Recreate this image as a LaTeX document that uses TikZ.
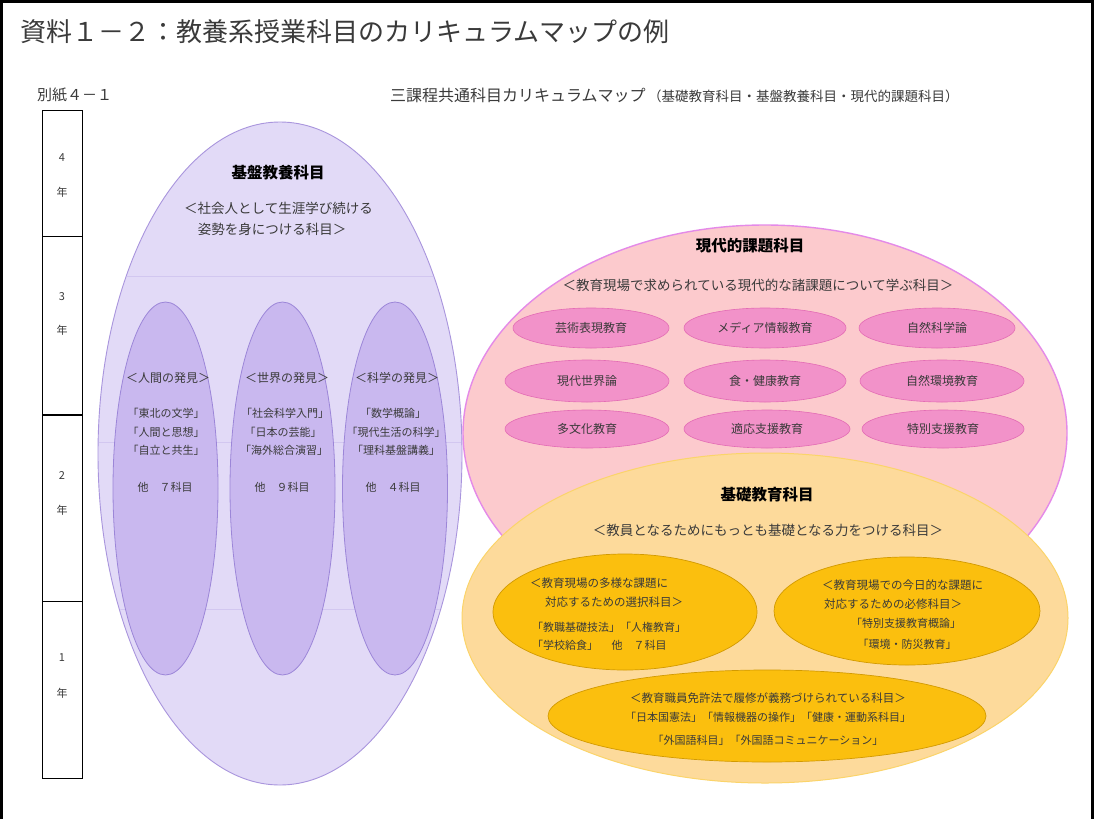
\documentclass[tikz,border=0pt]{standalone}
\usepackage{fontspec}
\setmainfont{Noto Sans CJK JP}
\usetikzlibrary{shapes.geometric}
\newcommand{\fsz}[2]{\fontsize{#1}{#2}\selectfont}
\definecolor{txt}{HTML}{3A3A3A}
\definecolor{pfill}{HTML}{E2DAF7}
\definecolor{pline}{HTML}{A995DD}
\definecolor{pfaint}{HTML}{D2C7F0}
\definecolor{pifill}{HTML}{C9B8EF}
\definecolor{piline}{HTML}{9C86D8}
\definecolor{kfill}{HTML}{FCCACD}
\definecolor{kline}{HTML}{E48AE8}
\definecolor{kifill}{HTML}{F292C9}
\definecolor{kiline}{HTML}{E36BB4}
\definecolor{ofill}{HTML}{FDDA9B}
\definecolor{oline}{HTML}{FBD46A}
\definecolor{oifill}{HTML}{FBBF0E}
\definecolor{oiline}{HTML}{D29A00}
\tikzset{
  every node/.style={inner sep=0pt, text=txt},
  oval/.style={ellipse, inner sep=0pt},
  bigpurple/.style={oval, draw=pline, fill=pfill, line width=0.9pt},
  smallpurple/.style={oval, draw=piline, fill=pifill, line width=0.8pt, minimum width=105pt, minimum height=373pt},
  bigpink/.style={oval, draw=kline, fill=kfill, line width=1.4pt},
  smallpink/.style={oval, draw=kiline, fill=kifill, line width=0.6pt, font=\fsz{12}{14}},
  bigorange/.style={oval, draw=oline, fill=ofill, line width=1pt},
  smallorange/.style={oval, draw=oiline, fill=oifill, line width=0.7pt},
  head/.style={font=\fsz{15.5}{18}\bfseries, text=black},
  sub/.style={font=\fsz{13.5}{16}},
  inner/.style={font=\fsz{11}{13}},
  otext/.style={font=\fsz{11.5}{13}},
  yr/.style={font=\fsz{11}{13}}
}
\begin{document}
\begin{tikzpicture}[x=1pt,y=-1pt]
\useasboundingbox (0,0) rectangle (1094,819);
\fill[white] (0,0) rectangle (1094,819);
\draw[line width=3pt] (1.5,819) -- (1.5,1.5) -- (1092.5,1.5) -- (1092.5,819);

% title and header
\node[anchor=west, font=\fsz{26}{30}] (title) at (20,32) {資料１－２：教養系授業科目のカリキュラムマップの例};
\node[anchor=west, font=\fsz{15}{18}] (bessi) at (37,95) {別紙４－１};
\node[anchor=west, font=\fsz{16}{18}] (hdr) at (390,95) {三課程共通科目カリキュラムマップ};
\node[anchor=west, font=\fsz{13.5}{16}] (hdr2) at (648,96) {（基礎教育科目・基盤教養科目・現代的課題科目）};

% year column
\draw[line width=0.8pt] (42,110) rectangle (82,778);
\draw[line width=0.8pt] (42,236) -- (82,236);
\draw[line width=1.4pt] (42,415) -- (82,415);
\draw[line width=0.8pt] (42,601) -- (82,601);
\node[yr] (y4) at (62,158) {\rmfamily 4};
\node[yr] (y4n) at (62,192) {年};
\node[yr] (y3) at (62,297) {\rmfamily 3};
\node[yr] (y3n) at (62,330) {年};
\node[yr] (y2) at (62,475) {\rmfamily 2};
\node[yr] (y2n) at (62,510) {年};
\node[yr] (y1) at (62,658) {\rmfamily 1};
\node[yr] (y1n) at (62,693) {年};

% purple
\node[bigpurple, minimum width=364pt, minimum height=663pt] (kiban) at (280,453.5) {};
\begin{scope}
\clip (280,453.5) ellipse [x radius=181, y radius=330.5];
\draw[pfaint, line width=0.6pt] (90,276) -- (470,276);
\draw[pfaint, line width=0.6pt] (90,442) -- (470,442);
\draw[pfaint, line width=0.6pt] (90,609) -- (470,609);
\end{scope}
\node[smallpurple] (ningen) at (165.5,488.5) {};
\node[smallpurple] (sekai) at (282.5,488.5) {};
\node[smallpurple] (kagaku) at (395,488.5) {};
\node[head] (kibanT) at (278,173) {基盤教養科目};
\node[sub] (kibanS1) at (278.5,208) {＜社会人として生涯学び続ける};
\node[sub] (kibanS2) at (272,229) {姿勢を身につける科目＞};

\node[inner, font=\fsz{12}{14}] (nT) at (168,378) {＜人間の発見＞};
\node[inner] (n1) at (166,413) {「東北の文学」};
\node[inner] (n2) at (166,432) {「人間と思想」};
\node[inner] (n3) at (166,450) {「自立と共生」};
\node[inner] (n4) at (165,487) {他　７科目};

\node[inner, font=\fsz{12}{14}] (sT) at (287,378) {＜世界の発見＞};
\node[inner] (s1) at (285,413) {「社会科学入門」};
\node[inner] (s2) at (283,432) {「日本の芸能」};
\node[inner] (s3) at (284,450) {「海外総合演習」};
\node[inner] (s4) at (282,487) {他　９科目};

\node[inner, font=\fsz{12}{14}] (kT) at (397,378) {＜科学の発見＞};
\node[inner] (k1) at (393,413) {「数学概論」};
\node[inner] (k2) at (396,432) {「現代生活の科学」};
\node[inner] (k3) at (396,450) {「理科基盤講義」};
\node[inner] (k4) at (393,487) {他　４科目};

% pink
\node[bigpink, minimum width=604pt, minimum height=416pt] (gendai) at (765,433) {};
\node[head] (gendaiT) at (750,246) {現代的課題科目};
\node[sub] (gendaiS) at (758,285) {＜教育現場で求められている現代的な諸課題について学ぶ科目＞};
\node[smallpink, minimum width=156pt, minimum height=40pt] (p11) at (591,328) {芸術表現教育};
\node[smallpink, minimum width=162pt, minimum height=40pt] (p12) at (765,328) {メディア情報教育};
\node[smallpink, minimum width=156pt, minimum height=40pt] (p13) at (937,328) {自然科学論};
\node[smallpink, minimum width=164pt, minimum height=42pt] (p21) at (587,381) {現代世界論};
\node[smallpink, minimum width=162pt, minimum height=42pt] (p22) at (765,381) {食・健康教育};
\node[smallpink, minimum width=164pt, minimum height=42pt] (p23) at (942,381) {自然環境教育};
\node[smallpink, minimum width=164pt, minimum height=38pt] (p31) at (587,429) {多文化教育};
\node[smallpink, minimum width=166pt, minimum height=38pt] (p32) at (767,429) {適応支援教育};
\node[smallpink, minimum width=162pt, minimum height=38pt] (p33) at (943,429) {特別支援教育};

% orange
\node[bigorange, minimum width=606pt, minimum height=330pt] (kiso) at (765,618) {};
\node[smallorange, minimum width=264pt, minimum height=116pt] (oL) at (625,612) {};
\node[smallorange, minimum width=266pt, minimum height=108pt] (oR) at (907,611) {};
\node[smallorange, minimum width=438pt, minimum height=92pt] (oB) at (767,716) {};
\node[head] (kisoT) at (767,495) {基礎教育科目};
\node[sub] (kisoS) at (768,530) {＜教員となるためにもっとも基礎となる力をつける科目＞};

\node[otext, anchor=west] (l1) at (530,583) {＜教育現場の多様な課題に};
\node[otext, anchor=west] (l2) at (545,602) {対応するための選択科目＞};
\node[inner, anchor=west] (l3) at (532,627) {「教職基礎技法」「人権教育」};
\node[inner, anchor=west] (l4) at (532,645) {「学校給食」　 他　７科目};

\node[otext, anchor=west] (r1) at (822,585) {＜教育現場での今日的な課題に};
\node[otext, anchor=west] (r2) at (824,604) {対応するための必修科目＞};
\node[inner] (r3) at (906,623) {「特別支援教育概論」};
\node[inner] (r4) at (907,644) {「環境・防災教育」};

\node[otext] (b1) at (768,698) {＜教育職員免許法で履修が義務づけられている科目＞};
\node[inner] (b2) at (768,717) {「日本国憲法」「情報機器の操作」「健康・運動系科目」};
\node[inner] (b3) at (768,740) {「外国語科目」「外国語コミュニケーション」};
\end{tikzpicture}
\end{document}
